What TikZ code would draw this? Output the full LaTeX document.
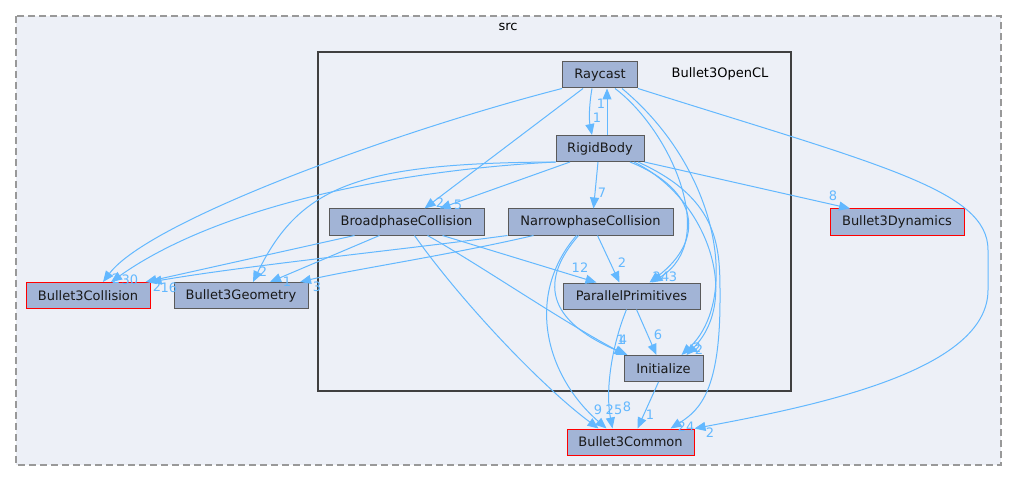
\documentclass[tikz,border=0pt]{standalone}
\usepackage{fontspec}
\newfontfamily\dvsans{DejaVu Sans}
\usetikzlibrary{arrows.meta}
\definecolor{boxfill}{HTML}{A2B4D6}
\definecolor{boxline}{HTML}{5A5A5A}
\definecolor{depblue}{HTML}{63B8FF}
\definecolor{clusterbg}{HTML}{EDF0F7}
\definecolor{clusterline}{HTML}{404040}
\definecolor{srcline}{HTML}{999999}

\begin{document}
\begin{tikzpicture}[
    x=1pt, y=-1pt,
    every node/.style={font=\dvsans\fontsize{13}{15}\selectfont, inner sep=0pt},
    dirbox/.style={draw=boxline, fill=boxfill, line width=1pt, minimum height=26pt, minimum width=#1, text=black!90},
    extdir/.style={dirbox=#1, draw=red},
    dep/.style={draw=depblue, line width=1pt, -{Triangle[length=11pt,width=9pt]}},
    cnt/.style={text=depblue}
]
\useasboundingbox (0,0) rectangle (1017,481);

% Clusters
\draw[srcline, fill=clusterbg, line width=1.5pt, dash pattern=on 7pt off 4pt] (16,16) rectangle (1001,465);
\node (srclbl) at (508,27) {src};
\draw[clusterline, fill=clusterbg, line width=2pt] (318,52) rectangle (791,391);
\node (ocllbl) at (720,74) {Bullet3OpenCL};

% Directories inside Bullet3OpenCL
\node[dirbox=75] (raycast) at (600,75) {Raycast};
\node[dirbox=88] (rigidbody) at (600,148.5) {RigidBody};
\node[dirbox=155] (broadphase) at (406.5,222) {BroadphaseCollision};
\node[dirbox=165] (narrowphase) at (590.5,222) {NarrowphaseCollision};
\node[dirbox=137] (parallel) at (631.5,296) {ParallelPrimitives};
\node[dirbox=79] (initialize) at (663.5,368.5) {Initialize};

% Other directories of src
\node[extdir=134] (dynamics) at (897,222) {Bullet3Dynamics};
\node[extdir=124] (collision) at (88,295.5) {Bullet3Collision};
\node[dirbox=134] (geometry) at (241,295.5) {Bullet3Geometry};
\node[extdir=127] (common) at (630.5,442) {Bullet3Common};

% Raycast
\draw[dep] (raycast.south west) .. controls (400,130) and (150,220) .. ([xshift=15]collision.north);
\draw[dep] ([xshift=-17]raycast.south) -- ([xshift=18]broadphase.north);
\draw[dep] ([xshift=-8]raycast.south) .. controls (589,105) and (589,120) .. ([xshift=-8]rigidbody.north);
\draw[dep] ([xshift=15]raycast.south) .. controls (670,130) and (720,240) .. ([xshift=20]parallel.north);
\draw[dep] ([xshift=22]raycast.south) .. controls (720,170) and (740,300) .. ([xshift=18]initialize.north);
\draw[dep] (raycast.south east) .. controls (880,165) and (988,190) .. (988,250) -- (988,290) .. controls (988,370) and (820,405) .. (common.north east);

% RigidBody
\draw[dep] ([xshift=7]rigidbody.north) -- ([xshift=7]raycast.south);
\draw[dep] (rigidbody.south west) .. controls (400,170) and (220,205) .. ([xshift=23]collision.north);
\draw[dep] (rigidbody.south west) .. controls (360,163) and (300,185) .. ([xshift=12]geometry.north);
\draw[dep] ([xshift=-30]rigidbody.south) -- ([xshift=33]broadphase.north);
\draw[dep] ([xshift=-2]rigidbody.south) -- ([xshift=3]narrowphase.north);
\draw[dep] ([xshift=30]rigidbody.south) .. controls (700,190) and (705,240) .. ([xshift=18]parallel.north);
\draw[dep] ([xshift=34]rigidbody.south) .. controls (710,200) and (740,300) .. ([xshift=23]initialize.north);
\draw[dep] ([xshift=38]rigidbody.south) .. controls (722,200) and (720,250) .. (720,300) .. controls (720,390) and (700,410) .. ([xshift=40]common.north);
\draw[dep] (rigidbody.south east) -- ([xshift=-47]dynamics.north);

% BroadphaseCollision
\draw[dep] ([xshift=-52]broadphase.south) -- ([xshift=-5]collision.north east);
\draw[dep] ([xshift=-27]broadphase.south) -- ([xshift=29]geometry.north);
\draw[dep] ([xshift=36]broadphase.south) -- ([xshift=-35]parallel.north);
\draw[dep] ([xshift=21]broadphase.south) .. controls (480,265) and (560,320) .. ([xshift=-38]initialize.north);
\draw[dep] ([xshift=8]broadphase.south) .. controls (460,300) and (540,385) .. ([xshift=-32]common.north);

% NarrowphaseCollision
\draw[dep] (narrowphase.south west) .. controls (400,250) and (250,265) .. (collision.north east);
\draw[dep] ([xshift=-57]narrowphase.south) .. controls (450,255) and (350,270) .. ([xshift=59]geometry.north);
\draw[dep] ([xshift=7]narrowphase.south) -- ([xshift=-12]parallel.north);
\draw[dep] ([xshift=-12]narrowphase.south) .. controls (540,280) and (545,320) .. ([xshift=-36]initialize.north);
\draw[dep] ([xshift=-14]narrowphase.south) .. controls (525,295) and (545,375) .. ([xshift=-24]common.north);

% ParallelPrimitives and Initialize
\draw[dep] ([xshift=5]parallel.south) -- ([xshift=-7]initialize.north);
\draw[dep] ([xshift=-5]parallel.south) .. controls (612,345) and (605,390) .. ([xshift=-18]common.north);
\draw[dep] ([xshift=-5]initialize.south) -- ([xshift=7]common.north);

% Counts
\node[cnt] (n1) at (116,279) {2};
\node[cnt] (n2) at (440,203) {2};
\node[cnt] (n3) at (597,118) {1};
\node[cnt] (n4) at (673,277) {3};
\node[cnt] (n5) at (697,348) {2};
\node[cnt] (n6) at (710,433) {2};
\node[cnt] (n7) at (601,104) {1};
\node[cnt] (n8) at (130,280) {30};
\node[cnt] (n9) at (263,272) {2};
\node[cnt] (n10) at (458,205) {5};
\node[cnt] (n11) at (602,193) {7};
\node[cnt] (n12) at (661,277) {24};
\node[cnt] (n13) at (699,350) {2};
\node[cnt] (n14) at (686,427) {24};
\node[cnt] (n15) at (833,196) {8};
\node[cnt] (n16) at (157,287) {2};
\node[cnt] (n17) at (287,282) {1};
\node[cnt] (n18) at (580,268) {12};
\node[cnt] (n19) at (621,340) {1};
\node[cnt] (n20) at (598,410) {9};
\node[cnt] (n21) at (169,288) {16};
\node[cnt] (n22) at (317,287) {3};
\node[cnt] (n23) at (622,263) {2};
\node[cnt] (n24) at (623,340) {4};
\node[cnt] (n25) at (614,410) {25};
\node[cnt] (n26) at (658,335) {6};
\node[cnt] (n27) at (627,407) {8};
\node[cnt] (n28) at (650,415) {1};

\end{tikzpicture}
\end{document}
